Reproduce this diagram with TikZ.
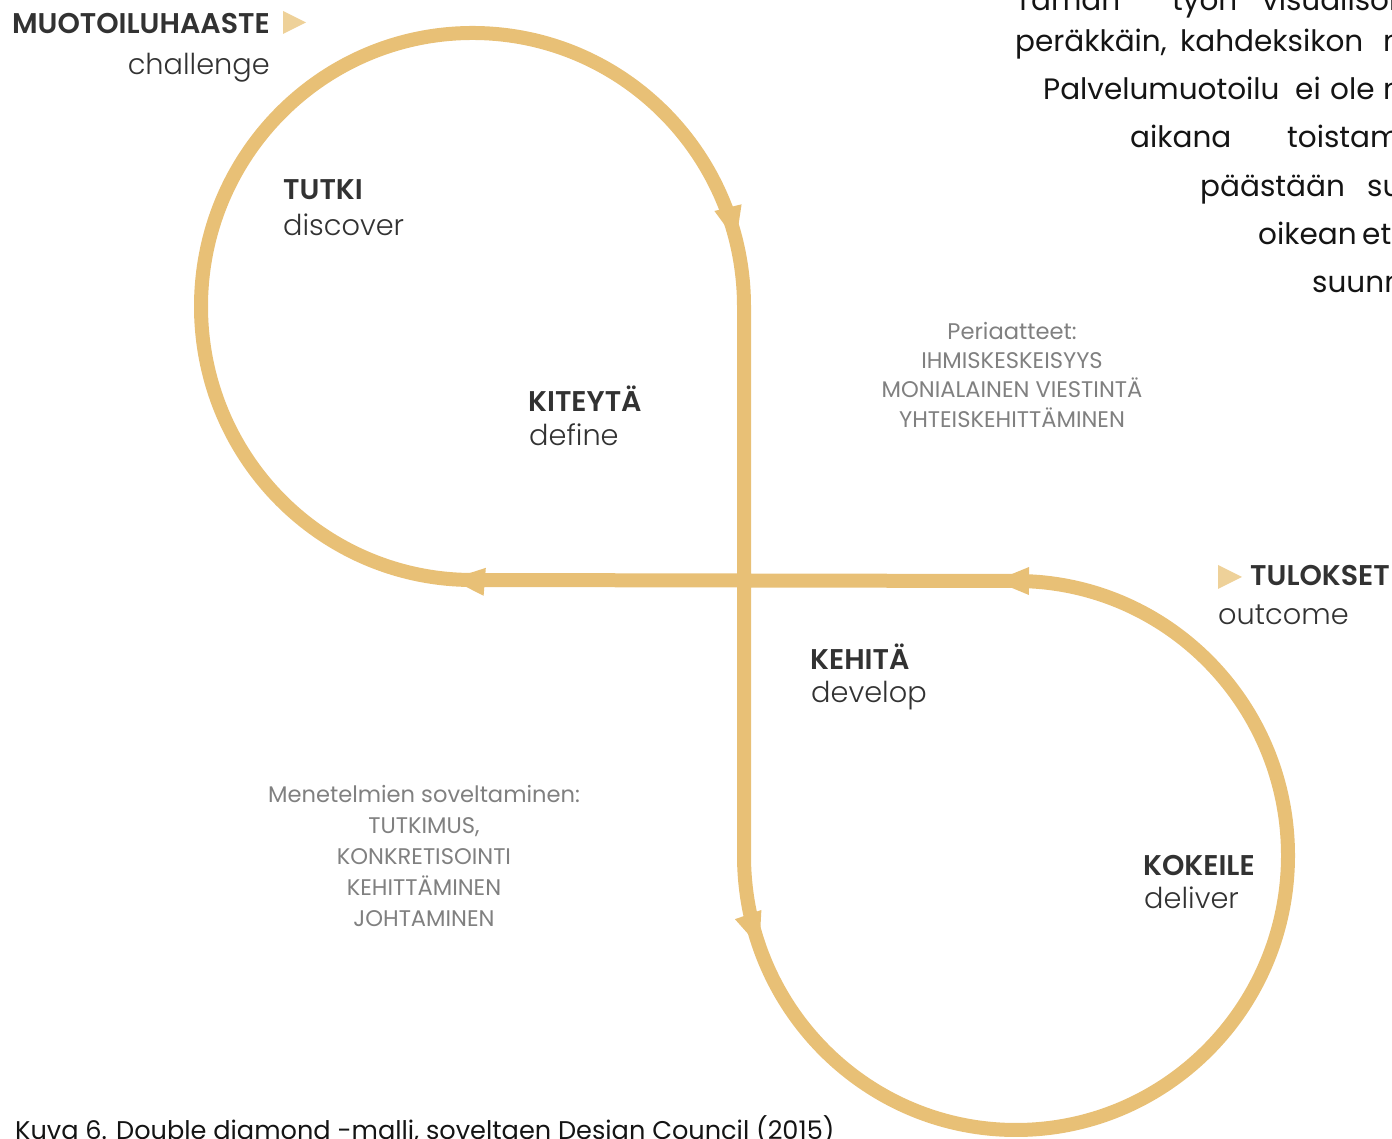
\documentclass[tikz,border=0pt]{standalone}
\usepackage{fontspec}
\setmainfont{Poppins}
\newfontfamily\poplight{Poppins Light}
\newfontfamily\popsemi{Poppins SemiBold}
\usetikzlibrary{arrows.meta,decorations.markings}

\definecolor{gold}{RGB}{232,192,118}
\definecolor{paleGold}{RGB}{238,209,153}
\definecolor{ink}{RGB}{50,50,50}
\definecolor{notegray}{RGB}{128,128,128}
\definecolor{bodyink}{RGB}{20,20,20}

\tikzset{
  figureeight/.style={
    color=gold, line width=14pt, line join=round,
    postaction=decorate,
    decoration={markings,
      mark=at position 0.2155 with {\arrow{Triangle[length=34pt,width=28pt,line width=0pt]}},
      mark=at position 0.4088 with {\arrow{Triangle[length=34pt,width=28pt,line width=0pt]}},
      mark=at position 0.7406 with {\arrow{Triangle[length=34pt,width=28pt,line width=0pt]}},
      mark=at position 0.8891 with {\arrow{Triangle[length=34pt,width=28pt,line width=0pt]}}}},
  head/.style={font=\popsemi\fontsize{28.5}{34}\selectfont, text=ink, inner sep=0pt},
  sub/.style={font=\poplight\fontsize{28.8}{34}\selectfont, text=ink, inner sep=0pt},
  body/.style={font=\fontsize{29.5}{36}\selectfont, text=bodyink, inner sep=0pt, anchor=base west},
  note/.style={font=\fontsize{22.6}{27}\selectfont, text=notegray, inner sep=0pt, anchor=base},
  caption/.style={font=\fontsize{25.6}{30}\selectfont, text=bodyink, inner sep=0pt, anchor=base west},
  marker/.style={fill=paleGold}
}

\begin{document}
\begin{tikzpicture}[x=1pt,y=1pt]
\useasboundingbox (0,0) rectangle (1392,1139);
\clip (0,0) rectangle (1392,1139);

% ---- the figure-eight loop ----
\coordinate (topLeft) at (201,832.5);
\coordinate (crossTop) at (744,832.5);
\coordinate (lowLeft) at (744,283.5);
\coordinate (lowTop) at (1016,558);
\coordinate (topBottom) at (472.5,559);
\draw[figureeight] (topLeft)
  arc[start angle=180, end angle=0, x radius=271.5, y radius=273.5]
  -- (lowLeft)
  arc[start angle=180, end angle=450, x radius=272, y radius=274.5]
  -- (topBottom)
  arc[start angle=270, end angle=180, x radius=271.5, y radius=273.5]
  -- cycle;

% ---- texts, placed in screen coordinates (y downward) ----
\begin{scope}[shift={(0,1139)}, yscale=-1]
  % start and end markers
  \fill[marker] (283,11) -- (306,22.5) -- (283,34) -- cycle;
  \fill[marker] (1218,565) -- (1242,577) -- (1218,589) -- cycle;

  \node[head, anchor=base east] (challengeHead) at (270,34) {MUOTOILUHAASTE};
  \node[sub, anchor=base east] (challengeSub) at (270,74.5) {challenge};

  \node[head, anchor=base west] (discoverHead) at (283,200) {TUTKI};
  \node[sub, anchor=base west] (discoverSub) at (283,236) {discover};

  \node[head, anchor=base west] (defineHead) at (528,411.5) {KITEYTÄ};
  \node[sub, anchor=base west] (defineSub) at (529,446) {define};

  \node[head, anchor=base west] (developHead) at (810,670) {KEHITÄ};
  \node[sub, anchor=base west] (developSub) at (811,703) {develop};

  \node[head, anchor=base west] (deliverHead) at (1143,876) {KOKEILE};
  \node[sub, anchor=base west] (deliverSub) at (1144,909) {deliver};

  \node[head, anchor=base west] (outcomeHead) at (1250,586) {TULOKSET};
  \node[sub, anchor=base west] (outcomeSub) at (1218,625) {outcome};

  % principles
  \node[note] (pr1) at (1012,340) {Periaatteet:};
  \node[note] (pr2) at (1012,369) {IHMISKESKEISYYS};
  \node[note] (pr3) at (1012,398) {MONIALAINEN VIESTINTÄ};
  \node[note] (pr4) at (1012,427.5) {YHTEISKEHITTÄMINEN};

  % methods
  \node[note] (me1) at (424,803) {Menetelmien soveltaminen:};
  \node[note] (me2) at (424,834) {TUTKIMUS,};
  \node[note] (me3) at (424,865) {KONKRETISOINTI};
  \node[note] (me4) at (424,896) {KEHITTÄMINEN};
  \node[note] (me5) at (424,927) {JOHTAMINEN};

  % running text at the right edge
  \node[body] (b1a) at (1015,11) {Tämän};
  \node[body] (b1b) at (1172,11) {työn};
  \node[body] (b1c) at (1262,11) {visualisoi};
  \node[body] (b2a) at (1015,52) {peräkkäin,};
  \node[body] (b2b) at (1180,52) {kahdeksikon};
  \node[body] (b2c) at (1383,52) {m};
  \node[body] (b3a) at (1043,100) {Palvelumuotoilu};
  \node[body] (b3b) at (1295,100) {ei};
  \node[body] (b3c) at (1330,100) {ole};
  \node[body] (b3d) at (1383,100) {m};
  \node[body] (b4a) at (1130,148) {aikana};
  \node[body] (b4b) at (1287,148) {toistam};
  \node[body] (b5a) at (1200,197) {päästään};
  \node[body] (b5b) at (1367,197) {su};
  \node[body] (b6a) at (1258,245) {oikean};
  \node[body] (b6b) at (1362,245) {et};
  \node[body] (b7a) at (1312,293) {suunn};

  % caption
  \node[caption] (cap) at (15,1140) {Kuva 6. Double diamond -malli, soveltaen Design Council (2015)};
\end{scope}
\end{tikzpicture}
\end{document}
